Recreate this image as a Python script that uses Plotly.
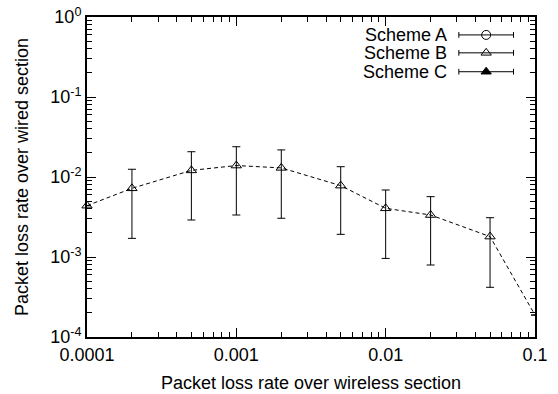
import plotly.graph_objects as go

# data
wireless_loss = [0.0001, 0.0002, 0.0005, 0.001, 0.002, 0.005, 0.01, 0.02, 0.05, 0.1]
schemeB_mean = [0.00438, 0.00722, 0.0121, 0.0139, 0.0130, 0.0078, 0.00406, 0.00335, 0.0018, 0.000188]
schemeB_upper = [None, 0.0125, 0.0207, 0.0239, 0.0218, 0.01345, 0.00688, 0.00568, 0.0031, None]
schemeB_lower = [None, 0.00171, 0.0029, 0.00335, 0.00305, 0.00192, 0.00096, 0.000794, 0.000418, None]

legend_labels = ["Scheme A", "Scheme B", "Scheme C"]
legend_symbols = ["circle-open", "triangle-up-open", "triangle-up"]

x_tickvals = [0.0001, 0.001, 0.01, 0.1]
x_ticktext = ["0.0001", "0.001", "0.01", "0.1"]
y_tickvals = [1e-4, 1e-3, 1e-2, 1e-1, 1]
y_ticktext = ["10<sup>-4</sup>", "10<sup>-3</sup>", "10<sup>-2</sup>", "10<sup>-1</sup>", "10<sup>0</sup>"]

x_title = "Packet loss rate over wireless section"
y_title = "Packet loss rate over wired section"

err_plus = [None if u is None else u - m for u, m in zip(schemeB_upper, schemeB_mean)]
err_minus = [None if l is None else m - l for l, m in zip(schemeB_lower, schemeB_mean)]

FONT = "Liberation Sans, Arial, sans-serif"
FS = 18

fig = go.Figure()
fig.add_trace(go.Scatter(
    x=wireless_loss, y=schemeB_mean, mode="lines+markers",
    line=dict(color="black", width=1, dash="4px,3px"),
    marker=dict(symbol="triangle-up-open", size=9, color="black", line=dict(width=1, color="black")),
    error_y=dict(type="data", array=err_plus, arrayminus=err_minus, symmetric=False,
                 color="black", thickness=1, width=4),
    showlegend=False, cliponaxis=False,
))

# custom gnuplot-style legend on an overlay axis
leg_y = [0.944, 0.888, 0.829]
sx, half = 0.891, 0.061
for lbl, sym, yy in zip(legend_labels, legend_symbols, leg_y):
    fig.add_trace(go.Scatter(
        x=[sx], y=[yy], mode="markers", xaxis="x2", yaxis="y2",
        marker=dict(symbol=sym, size=9, color="black", line=dict(width=1, color="black")),
        showlegend=False, hoverinfo="skip",
    ))
    fig.add_shape(type="line", xref="x2", yref="y2", x0=sx - half, x1=sx + half, y0=yy, y1=yy,
                  line=dict(color="black", width=1))
    for xe in (sx - half, sx + half):
        fig.add_shape(type="line", xref="x2", yref="y2", x0=xe, x1=xe, y0=yy - 0.009, y1=yy + 0.009,
                      line=dict(color="black", width=1))
    fig.add_annotation(xref="x2", yref="y2", x=0.806, y=yy, text=lbl, showarrow=False,
                       xanchor="right", yanchor="middle", borderpad=0,
                       font=dict(size=FS, color="black", family=FONT))

fig.add_annotation(xref="paper", yref="paper", x=0.5, y=-0.108, text=x_title, showarrow=False,
                   xanchor="center", yanchor="top", borderpad=0,
                   font=dict(size=FS, color="black", family=FONT))
fig.add_annotation(xref="paper", yref="paper", x=-0.145, y=0.5, text=y_title, showarrow=False,
                   textangle=-90, xanchor="center", yanchor="middle", borderpad=0,
                   font=dict(size=FS, color="black", family=FONT))

minor_x = [m * 10.0 ** e for e in (-4, -3, -2) for m in range(2, 10)]
minor_y = [m * 10.0 ** e for e in (-4, -3, -2, -1) for m in range(2, 10)]

fig.update_layout(
    width=558, height=394,
    margin=dict(l=87, r=23, t=17, b=57, autoexpand=False),
    plot_bgcolor="white", paper_bgcolor="white",
    font=dict(family=FONT, size=FS, color="black"),
    xaxis=dict(type="log", range=[-4, -1], tickvals=x_tickvals, ticktext=x_ticktext,
               ticks="inside", ticklen=9, tickwidth=1, tickcolor="black",
               showline=True, linecolor="black", linewidth=2, mirror="allticks",
               showgrid=False, zeroline=False, automargin=False,
               minor=dict(tickvals=minor_x, ticks="inside", ticklen=5, tickcolor="black", showgrid=False),
               tickfont=dict(size=FS, family=FONT)),
    yaxis=dict(type="log", range=[-4, 0], tickvals=y_tickvals, ticktext=y_ticktext,
               ticks="inside", ticklen=9, tickwidth=1, tickcolor="black",
               showline=True, linecolor="black", linewidth=2, mirror="allticks",
               showgrid=False, zeroline=False, automargin=False,
               minor=dict(tickvals=minor_y, ticks="inside", ticklen=5, tickcolor="black", showgrid=False),
               tickfont=dict(size=FS, family=FONT)),
    xaxis2=dict(overlaying="x", range=[0, 1], visible=False, fixedrange=True),
    yaxis2=dict(overlaying="y", range=[0, 1], visible=False, fixedrange=True),
)

fig.write_html("out.html", config={"displayModeBar": False},
               post_script="document.body.style.margin='0';document.body.style.padding='0';")
